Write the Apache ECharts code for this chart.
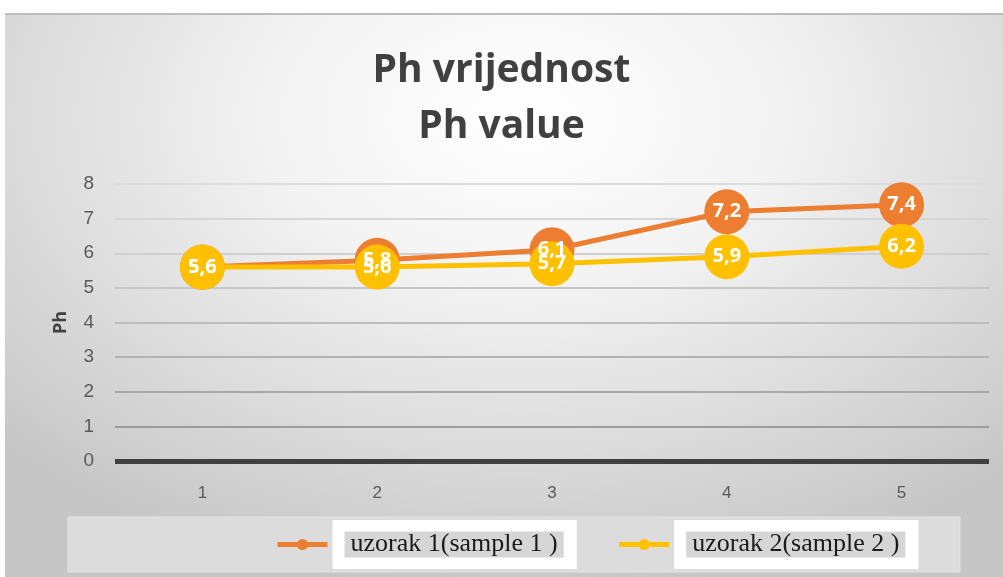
<!DOCTYPE html>
<html><head><meta charset="utf-8">
<script src="https://cdn.jsdelivr.net/npm/echarts@6/dist/echarts.min.js"></script>
<style>
html,body{margin:0;padding:0;background:#fff;}
#bg{position:absolute;left:5px;top:13px;width:998px;height:564px;border-top:2px solid #bdbdbd;box-sizing:border-box;
background:radial-gradient(ellipse 72% 85% at 52% 18%, #ffffff 0%, #f3f3f3 35%, #dadada 72%, #c6c6c6 100%);}
#c{position:absolute;left:0;top:0;width:1003px;height:577px;}
</style></head>
<body><div id="bg"></div><div id="c"></div>
<script>
const categories = ['1','2','3','4','5'];
const sample1 = [5.6, 5.8, 6.1, 7.2, 7.4];
const sample2 = [5.6, 5.6, 5.7, 5.9, 6.2];
const seriesNames = ['uzorak 1(sample 1 )', 'uzorak 2(sample 2 )'];
const titleText = 'Ph vrijednost\nPh value';
const yName = 'Ph';

const chart = echarts.init(document.getElementById('c'), null, {renderer:'canvas'});
const fmt = p => String(p.value).replace('.', ',');
const gridColors = ['#404040','#9c9c9c','#a8a8a8','#b2b2b2','#bcbcbc','#c6c6c6','#cfcfcf','#d6d6d6','#dcdcdc'];
const labelCfg = {show:true, position:'inside', formatter:fmt, color:'#fff',
  fontFamily:'Open Sans', fontWeight:'bold', fontSize:20};
function mkSeries(name, data, color, z, showLabel){
  return {
    name, type:'line', data, z,
    symbol:'circle', symbolSize:45,
    itemStyle:{color},
    lineStyle:{color, width:5},
    label: showLabel ? labelCfg : {show:false},
    emphasis:{disabled:true},
    animation:false
  };
}
chart.setOption({
  backgroundColor:'transparent',
  animation:false,
  title:{text:titleText, left:'center', top:38,
    textStyle:{fontFamily:'Open Sans', fontWeight:'bold', fontSize:39, lineHeight:56, color:'#404040'}},
  graphic:[{type:'rect', shape:{x:68, y:517, width:892, height:55},
    style:{fill:'#dcdcdc', stroke:'#e4e4e4'}, z:-1}],
  legend:{
    left:270, top:515, itemGap:40, itemWidth:50, itemHeight:14,
    data:seriesNames,
    lineStyle:{width:5},
    formatter: n => '{a|' + n + '}',
    textStyle:{fontFamily:'Liberation Serif', fontSize:26, color:'#1a1a1a',
      backgroundColor:'#ffffff', padding:[11,13,11,12],
      rich:{a:{fontFamily:'Liberation Serif', fontSize:26, color:'#1a1a1a',
        backgroundColor:'#d6d6d6', padding:[0,6], lineHeight:27}}}
  },
  grid:{left:115, right:14, top:184, bottom:116},
  xAxis:{type:'category', data:categories, boundaryGap:true,
    axisLine:{show:false}, axisTick:{show:false},
    axisLabel:{color:'#595959', fontSize:17, margin:24, fontFamily:'Liberation Sans'}},
  yAxis:{type:'value', min:0, max:8, interval:1,
    name:yName, nameLocation:'middle', nameGap:45, nameRotate:90,
    nameTextStyle:{fontFamily:'Open Sans', fontWeight:'bold', fontSize:18, color:'#404040'},
    axisLine:{show:false}, axisTick:{show:false},
    axisLabel:{color:'#595959', fontSize:19, margin:21, fontFamily:'Liberation Sans'},
    splitLine:{lineStyle:{color:gridColors, width:2}}},
  series:[
    mkSeries(seriesNames[0], sample1, '#ED7D31', 2, false),
    mkSeries(seriesNames[1], sample2, '#FFC000', 3, true),
    {name:'labels1', type:'line', data:sample1, z:5, symbol:'circle', symbolSize:45,
     itemStyle:{color:'rgba(0,0,0,0)'}, lineStyle:{width:0, opacity:0},
     label:labelCfg, silent:true, emphasis:{disabled:true}},
    {type:'line', data:[0,0,0,0,0], symbol:'none', silent:true, z:1,
     lineStyle:{width:0}, markLine:{silent:true, symbol:'none', label:{show:false},
       lineStyle:{color:'#404040', width:5, type:'solid'}, data:[{yAxis:0}]}}
  ]
});
</script></body></html>
